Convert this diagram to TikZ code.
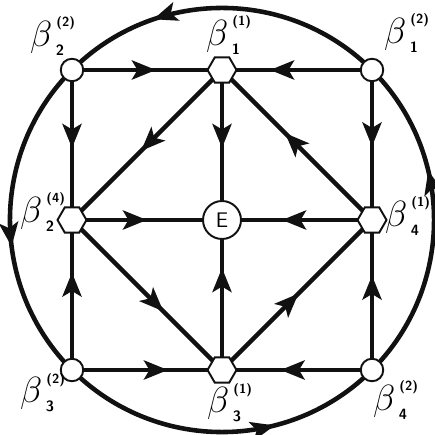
\documentclass[tikz,border=0pt]{standalone}
\usepackage{amsmath}
\usepackage{tikz}
\usetikzlibrary{arrows.meta,shapes.geometric,decorations.markings,backgrounds}
\definecolor{INK}{HTML}{111111}
\newcommand{\betalab}[2]{$\beta^{\mkern3mu\raisebox{3.5pt}{\fontsize{7.5}{7.5}\selectfont\sffamily\bfseries(#1)}}_{\mkern4mu\mbox{\fontsize{8.5}{8.5}\selectfont\sffamily\bfseries #2}}$}

\begin{document}
\begin{tikzpicture}[x=1cm,y=1cm]
\tikzset{hx/.style={draw=INK,line width=1.1pt,fill=white,regular polygon,regular polygon sides=6,minimum size=5.8mm,inner sep=0pt},
 vx/.style={draw=INK,line width=1.1pt,fill=white,circle,minimum size=4.5mm,inner sep=0pt},
 ln/.style={line width=2.6pt,INK},
 fl/.style={postaction={decorate},decoration={markings,mark=at position #1 with {\arrow{Stealth[length=4.8mm,width=3.8mm,inset=1.1mm]}}}},
 fl/.default=0.6,lab/.style={font=\fontsize{20}{20}\selectfont,inner sep=0pt}}
\useasboundingbox (-4.44,-4.3) rectangle (4.24,4.4);
\node[vx] (TL) at (-3,3) {};\node[hx] (T) at (0,3) {};\node[vx] (TR) at (3,3) {};
\node[hx] (L) at (-3,0) {};\node[hx] (R) at (3,0) {};
\node[circle,draw=INK,line width=1.1pt,fill=white,minimum size=7.6mm,inner sep=0pt,font=\sffamily\fontsize{12}{12}\selectfont] (E) at (0,0) {E};
\node[vx] (BL) at (-3,-3) {};\node[hx] (B) at (0,-3) {};\node[vx] (BR) at (3,-3) {};
\begin{scope}[on background layer]
\draw[ln,fl=0.71] (TR.center) to[bend right=45] (TL.center);
\draw[ln,fl=0.58] (TL.center) to[bend right=45] (BL.center);
\draw[ln,fl=0.66] (BL.center) to[bend right=45] (BR.center);
\draw[ln,fl=0.65] (BR.center) to[bend right=45] (TR.center);
\draw[ln,fl=0.56] (TL.center) -- (T.center);\draw[ln,fl=0.68] (TR.center) -- (T.center);
\draw[ln,fl=0.52] (TL.center) -- (L.center);\draw[ln,fl=0.51] (TR.center) -- (R.center);
\draw[ln,fl=0.52] (T.center) -- (E.center);\draw[ln,fl=0.54] (T.center) -- (L.center);
\draw[ln,fl=0.58] (R.center) -- (T.center);\draw[ln,fl=0.5] (L.center) -- (E.center);
\draw[ln,fl=0.6] (R.center) -- (E.center);\draw[ln,fl=0.61] (L.center) -- (B.center);
\draw[ln,fl=0.51] (B.center) -- (R.center);\draw[ln,fl=0.68] (B.center) -- (E.center);
\draw[ln,fl=0.65] (BL.center) -- (L.center);\draw[ln,fl=0.63] (BR.center) -- (R.center);
\draw[ln,fl=0.64] (BL.center) -- (B.center);\draw[ln,fl=0.61] (BR.center) -- (B.center);
\end{scope}
\node[lab] (lTL) at ([shift={(-0.38,0.68)}]TL) {\betalab{2}{2}};
\node[lab] (lT) at ([shift={(0.14,0.7)}]T) {\betalab{1}{1}};
\node[lab] (lTR) at ([shift={(0.7,0.74)}]TR) {\betalab{2}{1}};
\node[lab] (lL) at ([shift={(-0.58,0.16)}]L) {\betalab{4}{2}};
\node[lab] (lR) at ([shift={(0.72,0.08)}]R) {\betalab{1}{4}};
\node[lab] (lBL) at ([shift={(-0.58,-0.46)}]BL) {\betalab{2}{3}};
\node[lab] (lB) at ([shift={(0.16,-0.66)}]B) {\betalab{1}{3}};
\node[lab] (lBR) at ([shift={(0.48,-0.6)}]BR) {\betalab{2}{4}};
\end{tikzpicture}
\end{document}
